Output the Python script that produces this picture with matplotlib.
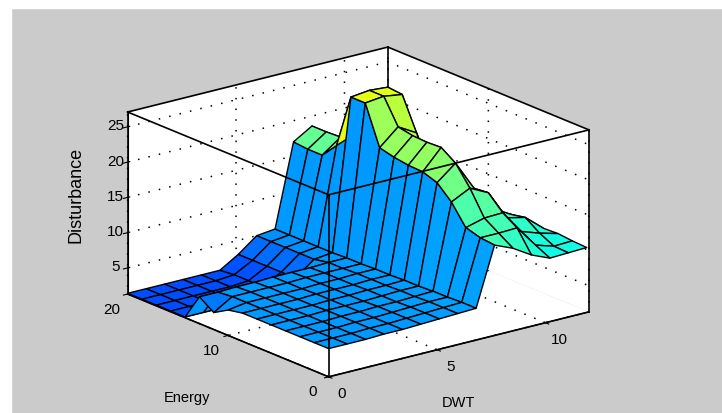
import numpy as np
import matplotlib
matplotlib.use('Agg')
import matplotlib.pyplot as plt
from matplotlib import cm
from matplotlib.patches import Rectangle

# Data
dwt = [0.85 * k for k in range(15)]
energy = [20 / 14 * j for j in range(15)]
# rows are energy steps, columns are dwt steps
disturbance = [
    [5.3, 5.3, 5.3, 5.4, 5.4, 5.5, 5.6, 5.7, 5.8, 14.1, 13.0, 11.4, 10.3, 10.4, 10.5],
    [5.3, 5.3, 5.3, 5.4, 5.4, 5.5, 5.6, 5.7, 5.8, 14.3, 14.3, 14.4, 11.3, 10.5, 10.6],
    [5.3, 5.3, 5.3, 5.4, 5.4, 5.5, 5.6, 5.7, 5.7, 14.9, 15.6, 15.7, 12.4, 11.5, 10.8],
    [5.3, 5.3, 5.3, 5.4, 5.4, 5.5, 5.5, 5.6, 5.7, 17.7, 19.0, 17.7, 13.5, 12.9, 10.7],
    [5.3, 5.3, 5.3, 5.4, 5.4, 5.4, 5.5, 5.6, 5.6, 19.6, 21.7, 17.5, 14.0, 12.5, 10.6],
    [5.3, 5.3, 5.3, 5.3, 5.4, 5.4, 5.5, 5.5, 5.6, 20.3, 23.1, 17.0, 14.0, 12.0, 10.5],
    [5.3, 5.3, 5.3, 5.3, 5.4, 5.4, 5.4, 5.5, 5.5, 20.4, 23.0, 17.0, 14.0, 12.0, 10.5],
    [4.9, 5.3, 5.3, 5.3, 5.3, 5.4, 5.4, 5.5, 5.5, 20.7, 23.1, 17.0, 14.0, 12.0, 10.5],
    [3.7, 5.3, 5.3, 5.3, 5.3, 5.4, 5.4, 5.4, 5.4, 21.2, 23.5, 22.0, 15.0, 12.0, 10.5],
    [5.1, 5.1, 5.2, 5.2, 5.3, 5.3, 5.3, 5.4, 5.4, 26.7, 27.0, 26.6, 17.0, 12.0, 10.5],
    [1.4, 1.4, 1.4, 1.4, 1.4, 1.6, 3.0, 5.0, 5.3, 26.7, 27.0, 26.8, 17.0, 12.0, 10.5],
    [1.4, 1.4, 1.4, 1.4, 1.4, 1.6, 3.0, 5.0, 5.3, 19.0, 20.0, 16.0, 13.0, 11.5, 10.5],
    [1.4, 1.4, 1.4, 1.4, 1.4, 1.6, 3.0, 5.0, 5.3, 16.8, 18.7, 15.0, 13.0, 11.5, 10.5],
    [1.4, 1.4, 1.4, 1.4, 1.4, 1.6, 3.0, 5.0, 5.3, 16.8, 18.6, 15.0, 13.0, 11.5, 10.5],
    [1.4, 1.4, 1.4, 1.4, 1.4, 1.4, 3.0, 5.0, 5.3, 17.0, 18.6, 15.0, 13.0, 11.5, 10.5],
]
xlim = (0, 12)
ylim = (0, 20)
zlim = (1.3, 27.1)
xticks = [0, 5, 10]
yticks = [0, 10, 20]
zticks = [5, 10, 15, 20, 25]

plt.rcParams['font.family'] = ['Liberation Sans', 'DejaVu Sans']
plt.rcParams['font.size'] = 11
plt.rcParams['grid.linestyle'] = (0, (1, 6))
plt.rcParams['grid.color'] = 'black'
plt.rcParams['grid.linewidth'] = 1.1

X, Y = np.meshgrid(dwt, energy)
Z = np.array(disturbance)

# flat colour of each face comes from its lowest-index corner, like matlab
levels = np.interp(Z, [1.4, 5.3, 10.6, 26.5], [0.20, 0.275, 0.375, 0.625])
face_colors = cm.jet(levels)

fig = plt.figure(figsize=(7.22, 4.13), dpi=100, facecolor='#cbcbcb')
fig.add_artist(Rectangle((0, 0), 11 / 722, 1, transform=fig.transFigure, color='white'))
fig.add_artist(Rectangle((0, 1 - 8 / 413), 1, 8 / 413, transform=fig.transFigure, color='white'))

ax = fig.add_axes([-12.5 / 722, -169.7 / 413, 1, 722 / 413], projection='3d', computed_zorder=False)
ax.set_proj_type('ortho')
ax.view_init(elev=18.7, azim=-127.9)
ax.set_box_aspect((329.5, 327, 192), zoom=0.676)
ax.set_xlim(xlim)
ax.set_ylim(ylim)
ax.set_zlim(zlim)
ax.set_xticks(xticks)
ax.set_yticks(yticks)
ax.set_zticks(zticks)
ax.patch.set_alpha(0)
ax.tick_params(axis='x', pad=10)
ax.tick_params(axis='y', pad=9)
ax.tick_params(axis='z', pad=-1)
for t in ax.get_xticklabels() + ax.get_yticklabels() + ax.get_zticklabels():
    t.set_va('center')

for axis in (ax.xaxis, ax.yaxis, ax.zaxis):
    axis.set_pane_color('white')
    axis.pane.set_edgecolor('none')
    axis.line.set_color('black')

ax.plot_surface(X, Y, Z, facecolors=face_colors, rstride=1, cstride=1, shade=False,
                edgecolor='black', linewidth=1.0, zorder=2)

# box edges, back ones under the surface, front ones over it
x0, x1 = xlim
y0, y1 = ylim
z0, z1 = zlim
back = [((x1, x1), (y1, y1), (z0, z1)),
        ((x0, x1), (y1, y1), (z1, z1)),
        ((x1, x1), (y0, y1), (z1, z1))]
front = [((x0, x0), (y0, y0), (z0, z1)),
         ((x0, x1), (y0, y0), (z1, z1)),
         ((x0, x0), (y0, y1), (z1, z1)),
         ((x0, x1), (y0, y0), (z0, z0)),
         ((x0, x0), (y0, y1), (z0, z0)),
         ((x0, x0), (y1, y1), (z0, z1)),
         ((x1, x1), (y0, y0), (z0, z1))]
for xs, ys, zs in back:
    ax.plot(xs, ys, zs, color='black', lw=1.2, zorder=1)
for xs, ys, zs in front:
    ax.plot(xs, ys, zs, color='black', lw=1.2, zorder=5)

fig.text(458 / 722, 1 - 403 / 413, 'DWT', ha='center', va='center', fontsize=10.5)
fig.text(187 / 722, 1 - 398 / 413, 'Energy', ha='center', va='center', fontsize=10.5)
fig.text(76 / 722, 1 - 195 / 413, 'Disturbance', rotation=90, ha='center', va='center', fontsize=13)

fig.savefig('out.png', dpi=100, facecolor=fig.get_facecolor())
